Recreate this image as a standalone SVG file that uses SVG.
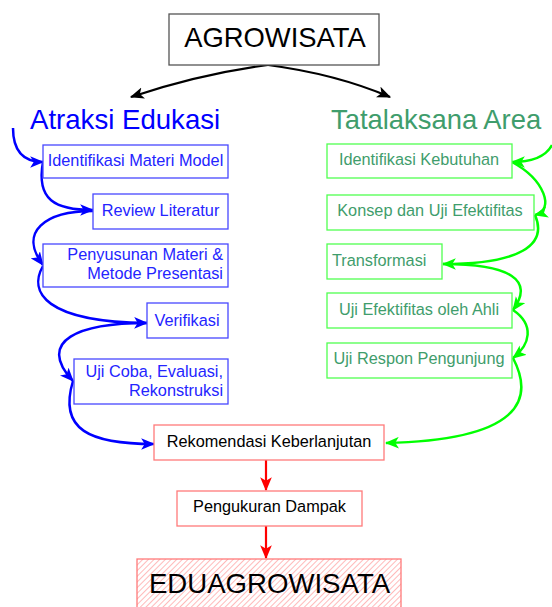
<svg xmlns="http://www.w3.org/2000/svg" width="552" height="607" viewBox="0 0 552 607">
<style>
text{font-family:"Liberation Sans",Arial,sans-serif}
.t16{font-size:16.3px}
.bbox{fill:#fff;stroke:#4848ff;stroke-width:1.3}
.gbox{fill:#fff;stroke:#50ff50;stroke-width:1.3}
.rbox{fill:#fff;stroke:#ff7a7a;stroke-width:1.3}
.bt{fill:#2424ff}
.gt{fill:#3f9d6c}
.bl{fill:none;stroke:#0000ff;stroke-width:2.5;marker-end:url(#ab)}
.gl{fill:none;stroke:#00ff00;stroke-width:2.5;marker-end:url(#ag)}
.kl{fill:none;stroke:#000;stroke-width:2.2;marker-end:url(#ak)}
.rl{fill:none;stroke:#ff0000;stroke-width:2.2;marker-end:url(#ar)}
</style>
<defs>
<marker id="ab" markerUnits="userSpaceOnUse" markerWidth="14" markerHeight="12" refX="11" refY="5" orient="auto" viewBox="0 0 12 10"><path d="M0,0 L12,5 L0,10 L3,5 Z" fill="#0000ff"/></marker>
<marker id="ag" markerUnits="userSpaceOnUse" markerWidth="14" markerHeight="12" refX="11" refY="5" orient="auto" viewBox="0 0 12 10"><path d="M0,0 L12,5 L0,10 L3,5 Z" fill="#00ff00"/></marker>
<marker id="ak" markerUnits="userSpaceOnUse" markerWidth="14" markerHeight="12" refX="11" refY="5" orient="auto" viewBox="0 0 12 10"><path d="M0,0 L12,5 L0,10 L3,5 Z" fill="#000"/></marker>
<marker id="ar" markerUnits="userSpaceOnUse" markerWidth="14" markerHeight="12" refX="11" refY="5" orient="auto" viewBox="0 0 12 10"><path d="M0,0 L12,5 L0,10 L3,5 Z" fill="#ff0000"/></marker>
<pattern id="hatch" patternUnits="userSpaceOnUse" width="4" height="4" patternTransform="rotate(45)"><rect width="4" height="4" fill="#fff"/><line x1="0" y1="0" x2="0" y2="4" stroke="#ff8080" stroke-width="1.1"/></pattern>
</defs>

<g id="connectors">
<path class="kl" d="M268,65 Q200,74 131,97"/>
<path class="kl" d="M268,65 Q336,74 390,97"/>
<path class="bl" d="M13,128 C13,150 22,162 43,162"/>
<path class="bl" d="M43,162 C36,200 55,210 93,210"/>
<path class="bl" d="M93,211 C45,211 18,232 43,265"/>
<path class="bl" d="M43,266 C28,292 45,322 147,323"/>
<path class="bl" d="M147,323 C80,323 35,340 73,381"/>
<path class="bl" d="M73,381 C58,430 90,444 154,444"/>
<path class="gl" d="M552,145 C545,158 530,162 512,162"/>
<path class="gl" d="M512,162 C545,180 555,210 535,215"/>
<path class="gl" d="M535,215 C548,245 520,264 443,264"/>
<path class="gl" d="M443,264 C510,264 535,280 513,310"/>
<path class="gl" d="M513,310 C535,325 530,345 513,358"/>
<path class="gl" d="M513,358 C535,400 520,440 386,443"/>
<path class="rl" d="M266,460 L266,490"/>
<path class="rl" d="M266,526 L266,558"/>
</g>

<g id="agrowisata">
<rect x="169" y="14" width="210" height="51" fill="#fff" stroke="#555" stroke-width="1.3"/>
<text x="275" y="47" font-size="27.4" text-anchor="middle" fill="#000">AGROWISATA</text>
</g>
<g id="atraksi-edukasi"><text x="30" y="129" font-size="27.6" fill="#0000ff">Atraksi Edukasi</text></g>
<g id="tatalaksana-area"><text x="331" y="129" font-size="27.4" fill="#3f9d6c">Tatalaksana Area</text></g>

<g id="identifikasi-materi-model">
<rect class="bbox" x="43" y="145" width="185" height="33"/>
<text class="t16 bt" x="135.5" y="166" text-anchor="middle">Identifikasi Materi Model</text>
</g>
<g id="review-literatur">
<rect class="bbox" x="93" y="194" width="135" height="35"/>
<text class="t16 bt" x="160.5" y="216" text-anchor="middle">Review Literatur</text>
</g>
<g id="penyusunan-materi">
<rect class="bbox" x="43" y="244" width="185" height="43"/>
<text class="t16 bt" x="223" y="260" text-anchor="end">Penyusunan Materi &amp;</text>
<text class="t16 bt" x="223" y="279" text-anchor="end">Metode Presentasi</text>
</g>
<g id="verifikasi">
<rect class="bbox" x="147" y="303" width="81" height="35"/>
<text class="t16 bt" x="187" y="326" text-anchor="middle">Verifikasi</text>
</g>
<g id="uji-coba">
<rect class="bbox" x="74" y="359" width="154" height="45"/>
<text class="t16 bt" x="223" y="377" text-anchor="end">Uji Coba, Evaluasi,</text>
<text class="t16 bt" x="223" y="396" text-anchor="end">Rekonstruksi</text>
</g>

<g id="identifikasi-kebutuhan">
<rect class="gbox" x="327" y="144" width="185" height="34"/>
<text class="t16 gt" x="419" y="165" text-anchor="middle">Identifikasi Kebutuhan</text>
</g>
<g id="konsep-uji-efektifitas">
<rect class="gbox" x="327" y="195" width="207" height="35"/>
<text class="t16 gt" x="430" y="216" text-anchor="middle">Konsep dan Uji Efektifitas</text>
</g>
<g id="transformasi">
<rect class="gbox" x="327" y="244" width="115" height="35"/>
<text class="t16 gt" x="332" y="266">Transformasi</text>
</g>
<g id="uji-efektifitas-ahli">
<rect class="gbox" x="327" y="293" width="185" height="35"/>
<text class="t16 gt" x="419" y="315" text-anchor="middle">Uji Efektifitas oleh Ahli</text>
</g>
<g id="uji-respon-pengunjung">
<rect class="gbox" x="327" y="343" width="185" height="35"/>
<text class="t16 gt" x="419" y="364" text-anchor="middle">Uji Respon Pengunjung</text>
</g>

<g id="rekomendasi-keberlanjutan">
<rect class="rbox" x="154" y="425" width="230" height="35"/>
<text class="t16" x="269" y="447" text-anchor="middle" fill="#000">Rekomendasi Keberlanjutan</text>
</g>
<g id="pengukuran-dampak">
<rect class="rbox" x="177" y="491" width="185" height="35"/>
<text class="t16" x="269.5" y="512" text-anchor="middle" fill="#000">Pengukuran Dampak</text>
</g>
<g id="eduagrowisata">
<rect x="137" y="559" width="264" height="52" fill="url(#hatch)" stroke="#ff7a7a" stroke-width="1.3"/>
<text x="269.5" y="593" font-size="27.6" text-anchor="middle" fill="#000">EDUAGROWISATA</text>
</g>
</svg>
